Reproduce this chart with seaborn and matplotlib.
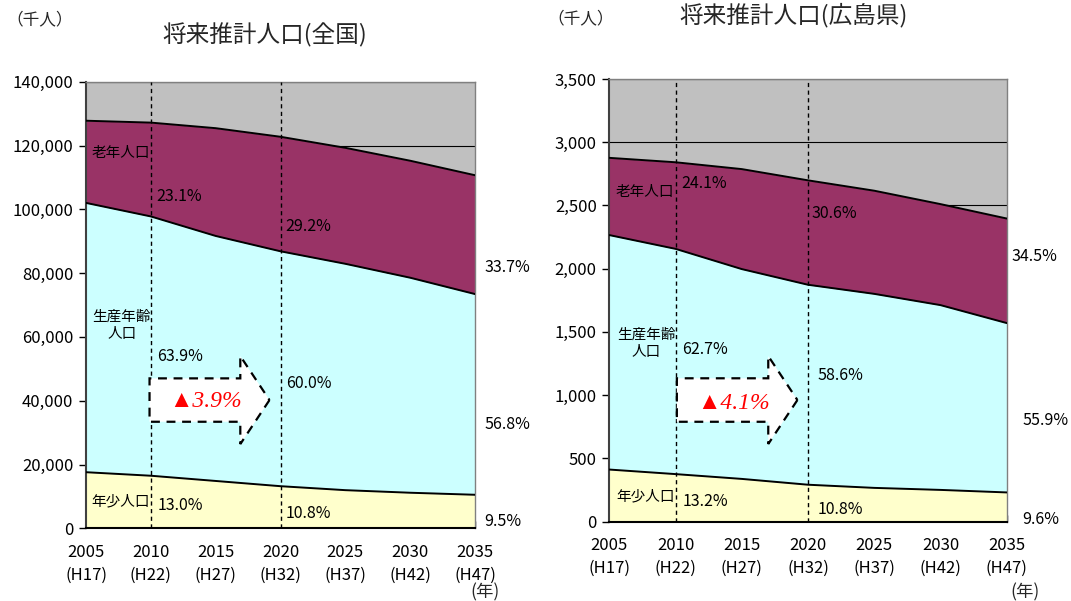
import matplotlib
matplotlib.use("Agg")
import matplotlib.pyplot as plt
from matplotlib.patches import FancyArrow
from matplotlib.ticker import FuncFormatter, MultipleLocator
import pandas as pd
import seaborn as sns

# ---- data (千人) ----
years = [2005, 2010, 2015, 2020, 2025, 2030, 2035]
era_labels = ["H17", "H22", "H27", "H32", "H37", "H42", "H47"]

# 全国
nat_young = [17585, 16479, 14841, 13201, 11956, 11150, 10512]
nat_working = [84422, 81285, 76807, 73635, 70960, 67404, 62919]
nat_elderly = [25761, 29412, 33781, 35899, 36354, 36670, 37249]

# 広島県
hir_young = [411, 375, 337, 291, 266, 250, 230]
hir_working = [1855, 1782, 1660, 1582, 1535, 1462, 1340]
hir_elderly = [611, 685, 791, 826, 816, 799, 827]

# years whose shares are annotated
share_years = [2010, 2020, 2035]

C_BG = "#C0C0C0"
C_OLD = "#993366"
C_WORK = "#CCFFFF"
C_YOUNG = "#FFFFCC"

sns.set_theme(style="white")
FONT = ["Noto Sans CJK JP", "DejaVu Sans"]
plt.rcParams["font.family"] = FONT

W, H = 1071, 601
fig = plt.figure(figsize=(W / 100, H / 100), dpi=100)


def px_rect(x0, y_top, x1, y_bot):
    return [x0 / W, 1 - y_bot / H, (x1 - x0) / W, (y_bot - y_top) / H]


def draw_panel(ax, young, working, elderly, ymax, ystep, layout):
    df = pd.DataFrame({"year": years, "young": young,
                       "working": working, "elderly": elderly})
    df["b1"] = df["young"]
    df["b2"] = df["young"] + df["working"]
    df["b3"] = df["b2"] + df["elderly"]
    df["total"] = df["b3"]

    ax.set_facecolor(C_BG)
    ax.set_axisbelow(True)
    ax.yaxis.grid(True, color="black", lw=0.8)
    ax.xaxis.grid(False)

    ax.fill_between(df["year"], 0, df["b1"], color=C_YOUNG, lw=0, zorder=2)
    ax.fill_between(df["year"], df["b1"], df["b2"], color=C_WORK, lw=0, zorder=2)
    ax.fill_between(df["year"], df["b2"], df["b3"], color=C_OLD, lw=0, zorder=2)
    for col in ["b1", "b2", "b3"]:
        sns.lineplot(data=df, x="year", y=col, ax=ax, color="black",
                     lw=1.4, zorder=3)

    for yr in (2010, 2020):
        ax.axvline(yr, color="black", lw=1.0, ls=(0, (3, 2.5)), zorder=4)

    ax.set_xlim(years[0], years[-1])
    ax.set_ylim(0, ymax)
    ax.yaxis.set_major_locator(MultipleLocator(ystep))
    ax.yaxis.set_major_formatter(FuncFormatter(lambda v, _: f"{int(v):,}"))
    ax.set_xticks(years)
    ax.set_xticklabels([f"{y}\n({h})" for y, h in zip(years, era_labels)],
                       linespacing=1.45)
    ax.set_xlabel("")
    ax.set_ylabel("")
    ax.tick_params(axis="x", direction="in", length=5, width=1,
                   color="black", pad=11, labelsize=12, bottom=True)
    ax.tick_params(axis="y", direction="out", length=5, width=1,
                   color="black", pad=4, labelsize=12, left=True)
    for lab in ax.get_xticklabels() + ax.get_yticklabels():
        lab.set_color("black")

    ax.spines["left"].set_color("#404040")
    ax.spines["left"].set_linewidth(1.5)
    ax.spines["bottom"].set_color("black")
    ax.spines["bottom"].set_linewidth(1.5)
    for s in ("top", "right"):
        ax.spines[s].set_color("#808080")
        ax.spines[s].set_linewidth(1.0)

    # group names
    ax.text(layout["old_name"][0], layout["old_name"][1], "老年人口",
            ha="left", va="center", fontsize=10.5, color="black", zorder=6)
    ax.text(layout["work_name"][0], layout["work_name"][1], "生産年齢\n人口",
            ha="center", va="center", fontsize=10.5, color="black",
            linespacing=1.3, zorder=6)
    ax.text(layout["young_name"][0], layout["young_name"][1], "年少人口",
            ha="left", va="center", fontsize=10.5, color="black", zorder=6)

    # shares
    sub = df.set_index("year")
    for yr, pos in zip(share_years, layout["shares"]):
        tot = sub.loc[yr, "total"]
        for key, (x, y) in zip(["elderly", "working", "young"], pos):
            pct = sub.loc[yr, key] / tot * 100
            ax.text(x, y, f"{pct:.1f}%", ha="left", va="center",
                    fontsize=11.5, color="black", zorder=6, clip_on=False)

    # change in working-age share, 2010 -> 2020
    w10 = sub.loc[2010, "working"] / sub.loc[2010, "total"] * 100
    w20 = sub.loc[2020, "working"] / sub.loc[2020, "total"] * 100
    ar = layout["arrow"]
    arrow = FancyArrow(ar["x"], ar["y"], ar["dx"], 0, width=ar["width"],
                       head_width=ar["head_width"], head_length=ar["head_length"],
                       length_includes_head=True, facecolor="white",
                       edgecolor="black", lw=1.6, ls=(0, (4, 3)), zorder=5)
    ax.add_patch(arrow)
    ax.text(layout["delta"][0], layout["delta"][1],
            f"▲{round(w10, 1) - round(w20, 1):.1f}%",
            ha="center", va="center", fontsize=17, color="red",
            family=["Liberation Serif", "DejaVu Serif"], style="italic",
            zorder=6)


# ---- 全国 ----
ax1 = fig.add_axes(px_rect(86, 81.7, 475, 528.3))
draw_panel(
    ax1, nat_young, nat_working, nat_elderly, 140000, 20000,
    {
        "old_name": (2005.45, 117500),
        "work_name": (2007.75, 63700),
        "young_name": (2005.45, 8400),
        "shares": [
            [(2010.45, 103900), (2010.45, 53700), (2010.5, 7300)],
            [(2020.4, 94500), (2020.4, 45500), (2020.4, 4600)],
            [(2035.7, 81700), (2035.7, 32400), (2035.7, 2100)],
        ],
        "arrow": {"x": 2009.9, "y": 40200, "dx": 9.25, "width": 13600,
                  "head_width": 27600, "head_length": 2.25},
        "delta": (2014.25, 39600),
    },
)

# ---- 広島県 ----
ax2 = fig.add_axes(px_rect(609.3, 79.1, 1006.7, 521.5))
draw_panel(
    ax2, hir_young, hir_working, hir_elderly, 3500, 500,
    {
        "old_name": (2005.5, 2606),
        "work_name": (2007.8, 1406),
        "young_name": (2005.5, 196),
        "shares": [
            [(2010.4, 2675), (2010.5, 1357), (2010.5, 157)],
            [(2020.3, 2438), (2020.75, 1152), (2020.75, 91)],
            [(2035.4, 2095), (2036.2, 803), (2036.2, 12)],
        ],
        "arrow": {"x": 2010.1, "y": 961, "dx": 9.1, "width": 344,
                  "head_width": 696, "head_length": 2.2},
        "delta": (2014.4, 937),
    },
)

# ---- titles and units ----
fig.text(6 / W, 1 - 20 / H, "（千人）", ha="left", va="center", fontsize=12)
fig.text(265 / W, 1 - 35 / H, "将来推計人口(全国)", ha="center", va="center",
         fontsize=17)
fig.text(547 / W, 1 - 19 / H, "（千人）", ha="left", va="center", fontsize=12)
fig.text(794 / W, 1 - 15 / H, "将来推計人口(広島県)", ha="center", va="center",
         fontsize=17)
fig.text(485 / W, 1 - 592 / H, "(年)", ha="center", va="center", fontsize=12.5)
fig.text(1025 / W, 1 - 592 / H, "(年)", ha="center", va="center", fontsize=12.5)

fig.savefig("out.png", dpi=100, facecolor="white")
